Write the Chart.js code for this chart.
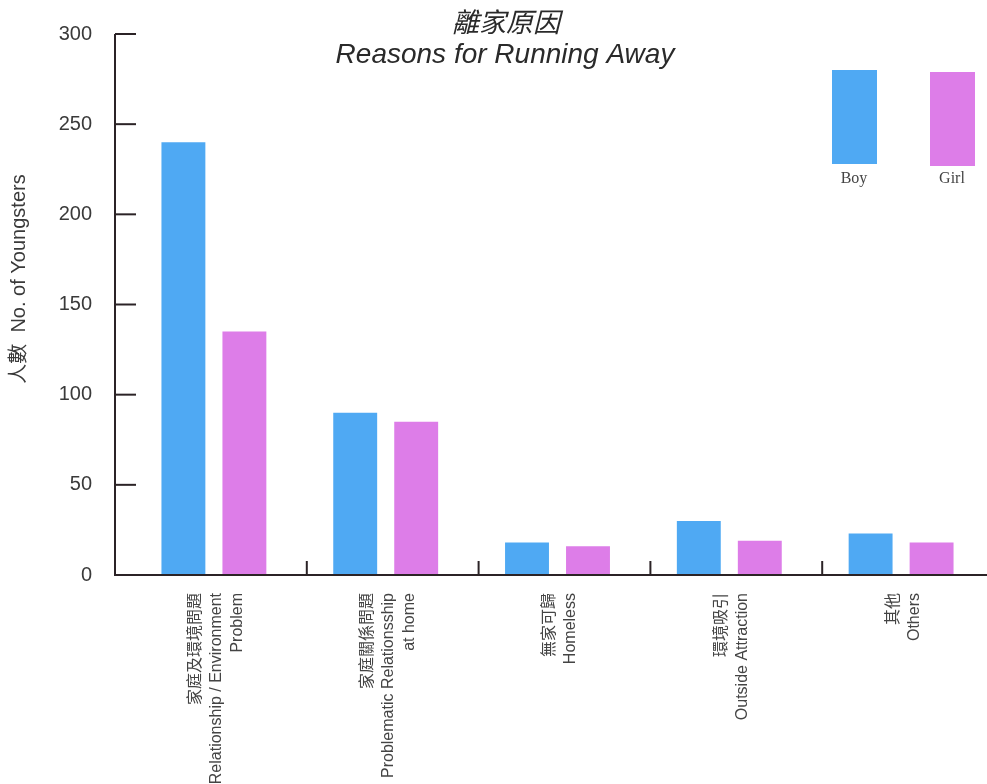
<!DOCTYPE html>
<html>
<head>
<meta charset="utf-8">
<script src="https://cdn.jsdelivr.net/npm/chart.js"></script>
<style>
  html, body { margin: 0; padding: 0; background: #fff; }
  #chart { display: block; }
</style>
</head>
<body>
<canvas id="chart" width="987" height="784"></canvas>
<script>
// Datos: motivos de huida, por sexo
const reasons = [
    ['家庭及環境問題', 'Relationship / Environment', 'Problem'],
    ['家庭關係問題', 'Problematic Relationsship', 'at home'],
    ['無家可歸', 'Homeless'],
    ['環境吸引', 'Outside Attraction'],
    ['其他', 'Others'],
];
const boys = [240, 90, 18, 30, 23];
const girls = [135, 85, 16, 19, 18];
const yTicks = [0, 50, 100, 150, 200, 250, 300];

const COLORS = {
    boy: '#4fa9f3',
    girl: '#dd7de8',
    axis: '#2b2326',
    text: '#3a3a3a',
};

const SANS = '"Liberation Sans", Arial, "Noto Sans CJK TC", sans-serif';
const AXIS_GAP = 13;     // el eje vertical queda algo a la izquierda del área
const LINE_STEP = 21;    // separación entre líneas de las etiquetas giradas

/**
 * Ejes, marcas, etiquetas, título y leyenda dibujados a mano
 */
const framePlugin = {
    id: 'frame',
    afterDraw(chart) {
        const ctx = chart.ctx;
        const area = chart.chartArea;
        const x = chart.scales.x;
        const y = chart.scales.y;
        const axisX = area.left - AXIS_GAP;
        const baseY = y.getPixelForValue(0);

        ctx.save();
        ctx.strokeStyle = COLORS.axis;
        ctx.lineWidth = 2;

        // eje Y
        ctx.beginPath();
        ctx.moveTo(axisX, y.getPixelForValue(yTicks[yTicks.length - 1]));
        ctx.lineTo(axisX, baseY);
        ctx.stroke();

        // marcas del eje Y hacia dentro
        yTicks.forEach(function(v) {
            const py = y.getPixelForValue(v);
            ctx.beginPath();
            ctx.moveTo(axisX, py);
            ctx.lineTo(axisX + 21, py);
            ctx.stroke();
        });

        // eje X
        ctx.beginPath();
        ctx.moveTo(axisX - 1, baseY);
        ctx.lineTo(chart.width, baseY);
        ctx.stroke();

        // separadores entre categorías
        for (let i = 0; i < reasons.length - 1; i++) {
            const px = (x.getPixelForValue(i) + x.getPixelForValue(i + 1)) / 2 + 7;
            ctx.beginPath();
            ctx.moveTo(px, baseY);
            ctx.lineTo(px, baseY - 14);
            ctx.stroke();
        }

        // etiquetas de categoría, giradas y alineadas al eje
        ctx.fillStyle = '#444';
        ctx.font = '16px ' + SANS;
        ctx.textAlign = 'right';
        ctx.textBaseline = 'middle';
        reasons.forEach(function(lines, i) {
            const cx = x.getPixelForValue(i) + 3;
            const first = cx - (lines.length - 1) * LINE_STEP / 2;
            lines.forEach(function(line, j) {
                ctx.save();
                ctx.translate(first + j * LINE_STEP, baseY + 18);
                ctx.rotate(-Math.PI / 2);
                ctx.fillText(line, 0, 0);
                ctx.restore();
            });
        });

        // título
        ctx.fillStyle = '#2a2a2a';
        ctx.textAlign = 'center';
        ctx.textBaseline = 'middle';
        ctx.font = 'italic 27px "Noto Sans CJK TC", sans-serif';
        ctx.fillText('離家原因', 506, 22);
        ctx.textBaseline = 'alphabetic';
        ctx.font = 'italic 28px ' + SANS;
        ctx.fillText('Reasons for Running Away', 505, 63);

        // título del eje Y
        ctx.save();
        ctx.translate(19, 279);
        ctx.rotate(-Math.PI / 2);
        ctx.fillStyle = COLORS.text;
        ctx.textBaseline = 'middle';
        ctx.font = '20px ' + SANS;
        ctx.fillText('人數  No. of Youngsters', 0, 0);
        ctx.restore();

        // leyenda
        const items = [
            { text: 'Boy', color: COLORS.boy, x: 832, top: 70 },
            { text: 'Girl', color: COLORS.girl, x: 930, top: 72 },
        ];
        ctx.font = '16px "Liberation Serif", "Times New Roman", serif';
        items.forEach(function(it) {
            ctx.fillStyle = it.color;
            ctx.fillRect(it.x, it.top, 45, 94);
            ctx.fillStyle = '#444';
            ctx.fillText(it.text, it.x + 22, 183);
        });
        ctx.restore();
    }
};

new Chart(document.getElementById('chart'), {
    type: 'bar',
    data: {
        labels: reasons,
        datasets: [{
            label: 'Boy',
            data: boys,
            backgroundColor: COLORS.boy,
            categoryPercentage: 0.71,
            barPercentage: 0.72,
        }, {
            label: 'Girl',
            data: girls,
            backgroundColor: COLORS.girl,
            categoryPercentage: 0.71,
            barPercentage: 0.72,
        }]
    },
    options: {
        responsive: false,
        animation: false,
        layout: {
            padding: { top: 34, right: 0, left: 0, bottom: 0 }
        },
        plugins: {
            legend: { display: false },
            tooltip: { enabled: false },
        },
        scales: {
            x: {
                grid: { display: false, drawTicks: false },
                border: { display: false },
                afterFit: function(scale) { scale.height = 209; },
                ticks: { display: false }
            },
            y: {
                min: 0,
                max: 300,
                grid: { display: false, drawTicks: false },
                border: { display: false },
                afterFit: function(scale) {
                    scale.width = 128;
                    // sin el relleno extra que añade ticks.padding arriba y abajo
                    scale.paddingTop = 0;
                    scale.paddingBottom = 0;
                },
                ticks: {
                    stepSize: 50,
                    color: COLORS.text,
                    padding: 36,
                    font: { family: SANS, size: 20 },
                }
            }
        }
    },
    plugins: [framePlugin]
});
</script>
</body>
</html>
